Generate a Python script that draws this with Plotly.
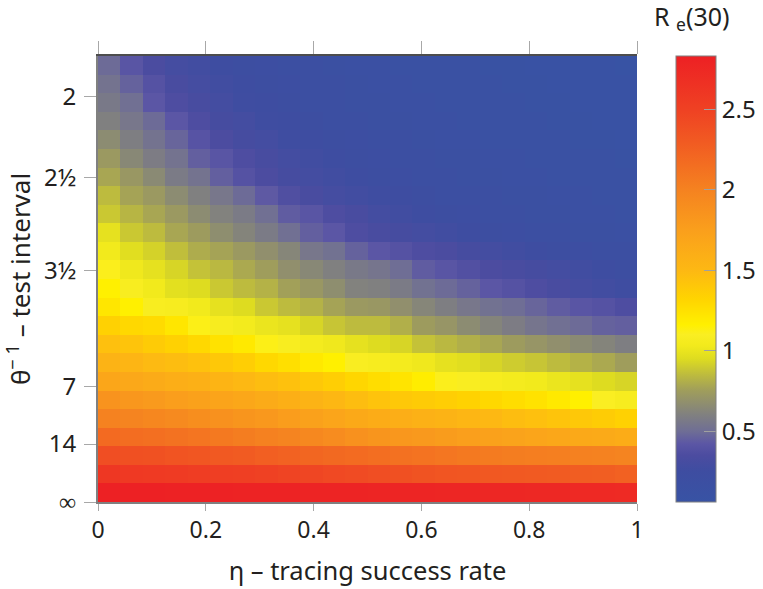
import plotly.graph_objects as go

# Re_e(30), rows listed top (largest 1/theta) to bottom (theta = 0); columns eta = 0 .. 1
re_rows = [
 [.49,.41,.34,.30,.28,.25,.23,.21,.20,.18,.17,.15,.14,.13,.12,.11,.11,.10,.10,.09,.09,.08,.08,.07],
 [.53,.46,.39,.33,.30,.27,.25,.22,.21,.19,.18,.16,.15,.14,.13,.12,.11,.11,.10,.10,.09,.09,.08,.08],
 [.56,.51,.42,.36,.32,.29,.26,.24,.22,.20,.19,.17,.16,.15,.14,.13,.12,.11,.11,.10,.10,.09,.09,.08],
 [.60,.55,.49,.42,.36,.31,.29,.26,.24,.22,.20,.19,.17,.16,.15,.14,.13,.12,.11,.11,.10,.10,.09,.09],
 [.66,.59,.53,.47,.40,.35,.31,.29,.26,.24,.22,.21,.19,.18,.16,.15,.14,.13,.12,.12,.11,.10,.10,.09],
 [.73,.64,.58,.53,.45,.41,.36,.32,.29,.27,.25,.23,.21,.20,.18,.17,.16,.15,.14,.13,.12,.11,.11,.10],
 [.78,.72,.65,.57,.53,.45,.39,.35,.31,.29,.27,.25,.23,.21,.20,.18,.17,.16,.15,.14,.13,.12,.11,.11],
 [.85,.77,.73,.66,.60,.55,.49,.43,.37,.33,.30,.28,.26,.24,.22,.20,.19,.18,.17,.16,.15,.14,.13,.12],
 [.89,.83,.78,.73,.66,.61,.57,.51,.44,.41,.36,.33,.29,.27,.25,.23,.21,.20,.19,.17,.16,.15,.14,.13],
 [.98,.89,.85,.78,.74,.67,.62,.57,.51,.45,.42,.36,.33,.31,.29,.27,.25,.23,.21,.20,.18,.17,.16,.15],
 [1.03,.96,.92,.86,.80,.77,.73,.68,.63,.55,.52,.46,.42,.39,.36,.34,.31,.29,.27,.25,.23,.21,.20,.18],
 [1.11,1.02,.98,.93,.87,.84,.79,.75,.68,.64,.60,.56,.54,.50,.44,.41,.38,.35,.33,.31,.29,.27,.25,.23],
 [1.16,1.08,1.03,.97,.95,.89,.85,.82,.76,.72,.67,.61,.60,.57,.52,.49,.46,.42,.39,.36,.33,.30,.28,.26],
 [1.22,1.16,1.08,1.07,1.03,.98,.95,.89,.85,.82,.77,.73,.72,.68,.63,.59,.55,.52,.50,.47,.44,.41,.39,.36],
 [1.34,1.30,1.28,1.22,1.12,1.07,1.04,1.00,.98,.93,.88,.85,.85,.81,.74,.71,.66,.62,.58,.54,.51,.49,.46,.45],
 [1.45,1.42,1.38,1.34,1.30,1.24,1.20,1.12,1.08,1.05,1.02,.98,.95,.93,.87,.84,.81,.78,.74,.71,.68,.65,.62,.59],
 [1.55,1.53,1.49,1.47,1.44,1.40,1.36,1.30,1.26,1.20,1.16,1.09,1.07,1.05,1.02,.98,.96,.93,.90,.88,.85,.82,.79,.75],
 [1.68,1.66,1.63,1.60,1.58,1.54,1.50,1.47,1.44,1.40,1.36,1.31,1.27,1.23,1.18,1.11,1.09,1.07,1.05,1.03,1.00,.98,.95,.93],
 [1.85,1.82,1.79,1.76,1.73,1.70,1.67,1.63,1.59,1.55,1.51,1.47,1.43,1.40,1.38,1.36,1.33,1.30,1.27,1.24,1.20,1.16,1.10,1.07],
 [2.00,1.98,1.96,1.93,1.90,1.87,1.84,1.81,1.77,1.73,1.69,1.65,1.62,1.60,1.57,1.55,1.52,1.50,1.47,1.45,1.42,1.40,1.37,1.34],
 [2.18,2.16,2.14,2.12,2.10,2.07,2.04,2.01,1.98,1.95,1.91,1.87,1.84,1.82,1.80,1.78,1.75,1.73,1.71,1.69,1.67,1.65,1.64,1.62],
 [2.40,2.38,2.37,2.35,2.33,2.31,2.29,2.26,2.24,2.21,2.19,2.17,2.15,2.13,2.11,2.09,2.07,2.05,2.04,2.03,2.02,2.01,2.00,1.98],
 [2.60,2.58,2.57,2.56,2.54,2.53,2.52,2.50,2.48,2.46,2.44,2.42,2.40,2.38,2.36,2.34,2.33,2.32,2.31,2.30,2.29,2.28,2.27,2.25],
 [2.82,2.82,2.82,2.81,2.81,2.81,2.80,2.80,2.80,2.79,2.79,2.79,2.78,2.78,2.78,2.77,2.77,2.76,2.76,2.75,2.75,2.74,2.74,2.73],
]
z_min, z_max = 0.06, 2.83
x_range = [0, 1]
y_range = [0, 0.55]
x_ticks = [0, 0.2, 0.4, 0.6, 0.8, 1]
x_tick_labels = ["0", "0.2", "0.4", "0.6", "0.8", "1"]
y_ticks = [1/2, 1/2.5, 1/3.5, 1/7, 1/14, 0]
y_tick_labels = ["2", "2½", "3½", "7", "14", "∞"]
cbar_ticks = [0.5, 1, 1.5, 2, 2.5]
cbar_labels = ["0.5", "1", "1.5", "2", "2.5"]
colour_stops = [
 (0.06, "#3853a4"), (0.25, "#3e4da1"), (0.35, "#4c4ca0"), (0.42, "#5b56a5"), (0.50, "#6f6e95"),
 (0.60, "#808080"), (0.75, "#9f9d5c"), (0.85, "#bdbb3e"), (0.95, "#dedc20"), (1.03, "#f2ea1c"),
 (1.10, "#faee22"), (1.16, "#fff000"), (1.32, "#ffd400"), (1.50, "#fdb813"), (1.75, "#fa9f1c"),
 (2.00, "#f58220"), (2.30, "#f15a22"), (2.50, "#ef4123"), (2.83, "#ed2024"),
]

W, H = 763, 589
L, R, T, B = 98, 637, 56, 502
n_x, n_y = len(re_rows[0]), len(re_rows)
x_edges = [x_range[0] + (x_range[1] - x_range[0]) * i / n_x for i in range(n_x + 1)]
y_edges = [y_range[0] + (y_range[1] - y_range[0]) * i / n_y for i in range(n_y + 1)]
z = re_rows[::-1]
scale = [[(v - z_min) / (z_max - z_min), c] for v, c in colour_stops]
FONT = "Noto Sans"
INK = "#231f20"
TICK = "#a8a8a8"

fig = go.Figure()
fig.add_trace(go.Heatmap(
    x=x_edges, y=y_edges, z=z, zmin=z_min, zmax=z_max, colorscale=scale,
    colorbar=dict(
        x=676 / W, xanchor="left", xpad=0, ypad=0,
        y=1 - (T + B) / 2 / H, yanchor="middle",
        thickness=40, thicknessmode="pixels", len=B - T, lenmode="pixels",
        outlinecolor="#808080", outlinewidth=1,
        tickmode="array", tickvals=cbar_ticks, ticktext=cbar_labels,
        ticks="inside", ticklen=12, tickcolor="#a0a0a0", tickwidth=1,
        tickfont=dict(family=FONT, size=24, color=INK),
    ),
))
fig.add_trace(go.Scatter(x=[], y=[], xaxis="x2", yaxis="y", showlegend=False, hoverinfo="skip"))

fig.update_layout(
    width=W, height=H, autosize=False, paper_bgcolor="white", plot_bgcolor="white",
    margin=dict(l=0, r=0, t=0, b=0, pad=0, autoexpand=False),
    font=dict(family=FONT, color=INK),
    showlegend=False,
    xaxis=dict(
        range=x_range, domain=[L / W, R / W], anchor="y", tickmode="array", tickvals=x_ticks, ticktext=x_tick_labels,
        ticks="outside", ticklen=7, tickcolor=TICK, tickwidth=1, showgrid=False, zeroline=False,
        showline=True, linecolor="#808080", linewidth=1.5,
        tickfont=dict(family=FONT, size=23, color=INK),
        title=dict(text="η – tracing success rate", font=dict(family=FONT, size=25.5, color=INK), standoff=18),
    ),
    xaxis2=dict(
        range=x_range, domain=[L / W, R / W], anchor="y", overlaying="x", side="top", tickmode="array", tickvals=x_ticks,
        showticklabels=False, ticks="outside", ticklen=13, tickcolor=TICK, tickwidth=1,
        showgrid=False, zeroline=False, showline=True, linecolor="#4d4d4d", linewidth=2,
    ),
    yaxis=dict(
        range=y_range, domain=[1 - B / H, 1 - T / H], anchor="x", tickmode="array", tickvals=y_ticks, ticktext=y_tick_labels,
        ticks="outside", ticklen=12, tickcolor=TICK, tickwidth=1, showgrid=False, zeroline=False,
        showline=True, linecolor="#808080", linewidth=2, ticklabelstandoff=3,
        tickfont=dict(family=FONT, size=24, color=INK),
        title=dict(text="θ<sup>− 1</sup> – test interval", font=dict(family=FONT, size=26, color=INK), standoff=10),
    ),
    annotations=[dict(
        text="R <sub>e</sub>(30)", xref="paper", yref="paper", x=692 / W, y=1 - 17 / H,
        xanchor="center", yanchor="middle", showarrow=False,
        font=dict(family=FONT, size=25, color=INK),
    )],
)
fig.write_html("out.html", post_script="document.body.style.margin='0';", config={"displayModeBar": False})
